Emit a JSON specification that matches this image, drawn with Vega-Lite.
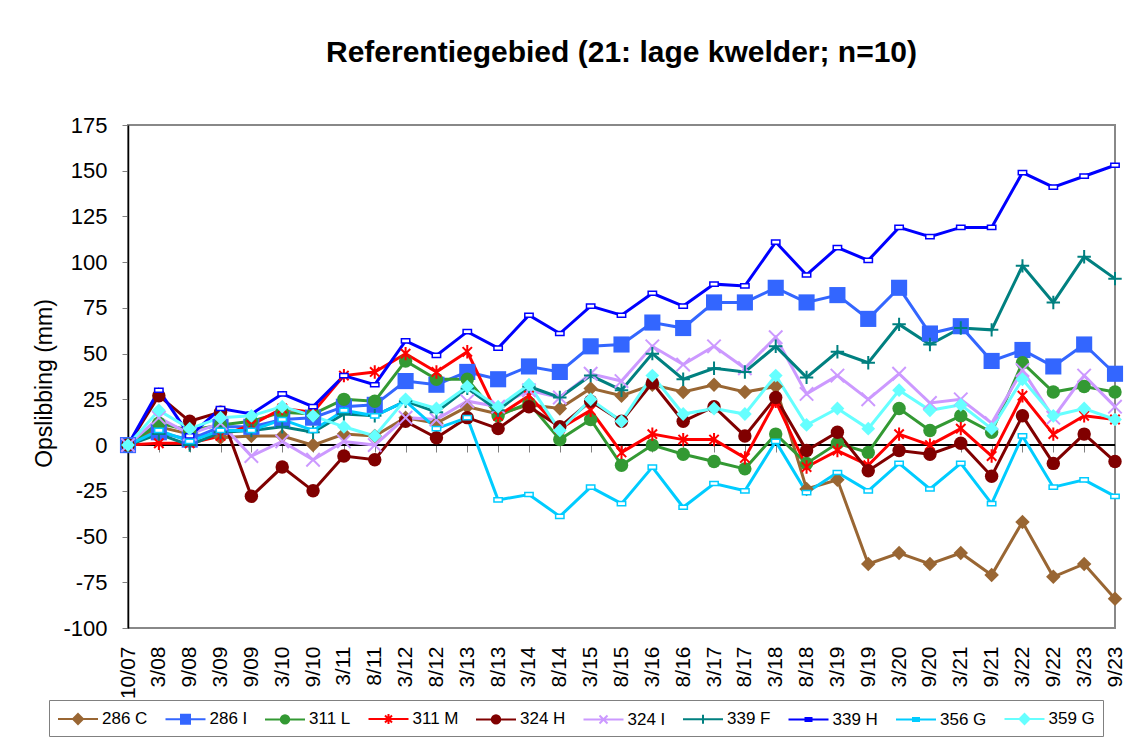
{
  "$schema": "https://vega.github.io/schema/vega-lite/v6.json",
  "width": 987,
  "height": 503,
  "autosize": {"type": "none"},
  "padding": {"left": 128, "top": 125, "right": 18, "bottom": 123},
  "background": "white",
  "title": {"text": "Referentiegebied (21: lage kwelder; n=10)", "fontSize": 30, "font": "Liberation Sans", "fontWeight": "bold", "color": "black", "anchor": "middle", "frame": "group", "baseline": "alphabetic", "offset": 22},
  "config": {
    "font": "Liberation Sans",
    "view": {"stroke": "#888888", "strokeWidth": 2},
    "axisY": {"domainColor": "black", "domainWidth": 1.5, "tickColor": "#808080", "tickSize": 6, "tickWidth": 1, "labelFontSize": 22, "labelColor": "black", "labelPadding": 15, "gridColor": "#808080", "gridDash": [1, 1], "gridWidth": 1, "titleFontSize": 23, "titleFontWeight": "normal", "titleColor": "black", "titlePadding": 6}
  },
  "data": {"values": [
    {"d":"10/07","s":"286 C","v":0},{"d":"3/08","s":"286 C","v":10},{"d":"9/08","s":"286 C","v":6},{"d":"3/09","s":"286 C","v":4},{"d":"9/09","s":"286 C","v":5},{"d":"3/10","s":"286 C","v":5},{"d":"9/10","s":"286 C","v":0},{"d":"3/11","s":"286 C","v":6},{"d":"8/11","s":"286 C","v":5},{"d":"3/12","s":"286 C","v":15},{"d":"8/12","s":"286 C","v":12},{"d":"3/13","s":"286 C","v":21},{"d":"8/13","s":"286 C","v":17},{"d":"3/14","s":"286 C","v":22},{"d":"8/14","s":"286 C","v":20},{"d":"3/15","s":"286 C","v":31},{"d":"8/15","s":"286 C","v":27},{"d":"3/16","s":"286 C","v":33},{"d":"8/16","s":"286 C","v":29},{"d":"3/17","s":"286 C","v":33},{"d":"8/17","s":"286 C","v":29},{"d":"3/18","s":"286 C","v":32},{"d":"8/18","s":"286 C","v":-24},{"d":"3/19","s":"286 C","v":-19},{"d":"9/19","s":"286 C","v":-65},{"d":"3/20","s":"286 C","v":-59},{"d":"9/20","s":"286 C","v":-65},{"d":"3/21","s":"286 C","v":-59},{"d":"9/21","s":"286 C","v":-71},{"d":"3/22","s":"286 C","v":-42},{"d":"9/22","s":"286 C","v":-72},{"d":"3/23","s":"286 C","v":-65},{"d":"9/23","s":"286 C","v":-84},
    {"d":"10/07","s":"286 I","v":0},{"d":"3/08","s":"286 I","v":7},{"d":"9/08","s":"286 I","v":3},{"d":"3/09","s":"286 I","v":10},{"d":"9/09","s":"286 I","v":10},{"d":"3/10","s":"286 I","v":14},{"d":"9/10","s":"286 I","v":15},{"d":"3/11","s":"286 I","v":21},{"d":"8/11","s":"286 I","v":22},{"d":"3/12","s":"286 I","v":35},{"d":"8/12","s":"286 I","v":33},{"d":"3/13","s":"286 I","v":40},{"d":"8/13","s":"286 I","v":36},{"d":"3/14","s":"286 I","v":43},{"d":"8/14","s":"286 I","v":40},{"d":"3/15","s":"286 I","v":54},{"d":"8/15","s":"286 I","v":55},{"d":"3/16","s":"286 I","v":67},{"d":"8/16","s":"286 I","v":64},{"d":"3/17","s":"286 I","v":78},{"d":"8/17","s":"286 I","v":78},{"d":"3/18","s":"286 I","v":86},{"d":"8/18","s":"286 I","v":78},{"d":"3/19","s":"286 I","v":82},{"d":"9/19","s":"286 I","v":69},{"d":"3/20","s":"286 I","v":86},{"d":"9/20","s":"286 I","v":61},{"d":"3/21","s":"286 I","v":65},{"d":"9/21","s":"286 I","v":46},{"d":"3/22","s":"286 I","v":52},{"d":"9/22","s":"286 I","v":43},{"d":"3/23","s":"286 I","v":55},{"d":"9/23","s":"286 I","v":39},
    {"d":"10/07","s":"311 L","v":0},{"d":"3/08","s":"311 L","v":12},{"d":"9/08","s":"311 L","v":8},{"d":"3/09","s":"311 L","v":11},{"d":"9/09","s":"311 L","v":13},{"d":"3/10","s":"311 L","v":18},{"d":"9/10","s":"311 L","v":17},{"d":"3/11","s":"311 L","v":25},{"d":"8/11","s":"311 L","v":24},{"d":"3/12","s":"311 L","v":46},{"d":"8/12","s":"311 L","v":36},{"d":"3/13","s":"311 L","v":36},{"d":"8/13","s":"311 L","v":16},{"d":"3/14","s":"311 L","v":23},{"d":"8/14","s":"311 L","v":3},{"d":"3/15","s":"311 L","v":14},{"d":"8/15","s":"311 L","v":-11},{"d":"3/16","s":"311 L","v":0},{"d":"8/16","s":"311 L","v":-5},{"d":"3/17","s":"311 L","v":-9},{"d":"8/17","s":"311 L","v":-13},{"d":"3/18","s":"311 L","v":6},{"d":"8/18","s":"311 L","v":-10},{"d":"3/19","s":"311 L","v":1},{"d":"9/19","s":"311 L","v":-4},{"d":"3/20","s":"311 L","v":20},{"d":"9/20","s":"311 L","v":8},{"d":"3/21","s":"311 L","v":16},{"d":"9/21","s":"311 L","v":7},{"d":"3/22","s":"311 L","v":45},{"d":"9/22","s":"311 L","v":29},{"d":"3/23","s":"311 L","v":32},{"d":"9/23","s":"311 L","v":29},
    {"d":"10/07","s":"311 M","v":0},{"d":"3/08","s":"311 M","v":1},{"d":"9/08","s":"311 M","v":1},{"d":"3/09","s":"311 M","v":5},{"d":"9/09","s":"311 M","v":11},{"d":"3/10","s":"311 M","v":20},{"d":"9/10","s":"311 M","v":18},{"d":"3/11","s":"311 M","v":38},{"d":"8/11","s":"311 M","v":40},{"d":"3/12","s":"311 M","v":50},{"d":"8/12","s":"311 M","v":40},{"d":"3/13","s":"311 M","v":51},{"d":"8/13","s":"311 M","v":16},{"d":"3/14","s":"311 M","v":27},{"d":"8/14","s":"311 M","v":9},{"d":"3/15","s":"311 M","v":19},{"d":"8/15","s":"311 M","v":-4},{"d":"3/16","s":"311 M","v":6},{"d":"8/16","s":"311 M","v":3},{"d":"3/17","s":"311 M","v":3},{"d":"8/17","s":"311 M","v":-7},{"d":"3/18","s":"311 M","v":24},{"d":"8/18","s":"311 M","v":-12},{"d":"3/19","s":"311 M","v":-3},{"d":"9/19","s":"311 M","v":-11},{"d":"3/20","s":"311 M","v":6},{"d":"9/20","s":"311 M","v":0},{"d":"3/21","s":"311 M","v":9},{"d":"9/21","s":"311 M","v":-6},{"d":"3/22","s":"311 M","v":27},{"d":"9/22","s":"311 M","v":6},{"d":"3/23","s":"311 M","v":16},{"d":"9/23","s":"311 M","v":14},
    {"d":"10/07","s":"324 H","v":0},{"d":"3/08","s":"324 H","v":27},{"d":"9/08","s":"324 H","v":13},{"d":"3/09","s":"324 H","v":18},{"d":"9/09","s":"324 H","v":-28},{"d":"3/10","s":"324 H","v":-12},{"d":"9/10","s":"324 H","v":-25},{"d":"3/11","s":"324 H","v":-6},{"d":"8/11","s":"324 H","v":-8},{"d":"3/12","s":"324 H","v":13},{"d":"8/12","s":"324 H","v":4},{"d":"3/13","s":"324 H","v":15},{"d":"8/13","s":"324 H","v":9},{"d":"3/14","s":"324 H","v":21},{"d":"8/14","s":"324 H","v":10},{"d":"3/15","s":"324 H","v":24},{"d":"8/15","s":"324 H","v":13},{"d":"3/16","s":"324 H","v":34},{"d":"8/16","s":"324 H","v":13},{"d":"3/17","s":"324 H","v":21},{"d":"8/17","s":"324 H","v":5},{"d":"3/18","s":"324 H","v":26},{"d":"8/18","s":"324 H","v":-3},{"d":"3/19","s":"324 H","v":7},{"d":"9/19","s":"324 H","v":-14},{"d":"3/20","s":"324 H","v":-3},{"d":"9/20","s":"324 H","v":-5},{"d":"3/21","s":"324 H","v":1},{"d":"9/21","s":"324 H","v":-17},{"d":"3/22","s":"324 H","v":16},{"d":"9/22","s":"324 H","v":-10},{"d":"3/23","s":"324 H","v":6},{"d":"9/23","s":"324 H","v":-9},
    {"d":"10/07","s":"324 I","v":0},{"d":"3/08","s":"324 I","v":15},{"d":"9/08","s":"324 I","v":6},{"d":"3/09","s":"324 I","v":12},{"d":"9/09","s":"324 I","v":-6},{"d":"3/10","s":"324 I","v":2},{"d":"9/10","s":"324 I","v":-8},{"d":"3/11","s":"324 I","v":2},{"d":"8/11","s":"324 I","v":0},{"d":"3/12","s":"324 I","v":15},{"d":"8/12","s":"324 I","v":14},{"d":"3/13","s":"324 I","v":24},{"d":"8/13","s":"324 I","v":21},{"d":"3/14","s":"324 I","v":30},{"d":"8/14","s":"324 I","v":26},{"d":"3/15","s":"324 I","v":39},{"d":"8/15","s":"324 I","v":35},{"d":"3/16","s":"324 I","v":54},{"d":"8/16","s":"324 I","v":44},{"d":"3/17","s":"324 I","v":54},{"d":"8/17","s":"324 I","v":42},{"d":"3/18","s":"324 I","v":59},{"d":"8/18","s":"324 I","v":28},{"d":"3/19","s":"324 I","v":38},{"d":"9/19","s":"324 I","v":25},{"d":"3/20","s":"324 I","v":39},{"d":"9/20","s":"324 I","v":23},{"d":"3/21","s":"324 I","v":25},{"d":"9/21","s":"324 I","v":12},{"d":"3/22","s":"324 I","v":41},{"d":"9/22","s":"324 I","v":15},{"d":"3/23","s":"324 I","v":38},{"d":"9/23","s":"324 I","v":21},
    {"d":"10/07","s":"339 F","v":0},{"d":"3/08","s":"339 F","v":6},{"d":"9/08","s":"339 F","v":0},{"d":"3/09","s":"339 F","v":7},{"d":"9/09","s":"339 F","v":8},{"d":"3/10","s":"339 F","v":10},{"d":"9/10","s":"339 F","v":7},{"d":"3/11","s":"339 F","v":17},{"d":"8/11","s":"339 F","v":16},{"d":"3/12","s":"339 F","v":24},{"d":"8/12","s":"339 F","v":18},{"d":"3/13","s":"339 F","v":31},{"d":"8/13","s":"339 F","v":19},{"d":"3/14","s":"339 F","v":32},{"d":"8/14","s":"339 F","v":26},{"d":"3/15","s":"339 F","v":38},{"d":"8/15","s":"339 F","v":30},{"d":"3/16","s":"339 F","v":50},{"d":"8/16","s":"339 F","v":36},{"d":"3/17","s":"339 F","v":42},{"d":"8/17","s":"339 F","v":40},{"d":"3/18","s":"339 F","v":54},{"d":"8/18","s":"339 F","v":37},{"d":"3/19","s":"339 F","v":51},{"d":"9/19","s":"339 F","v":45},{"d":"3/20","s":"339 F","v":66},{"d":"9/20","s":"339 F","v":55},{"d":"3/21","s":"339 F","v":64},{"d":"9/21","s":"339 F","v":63},{"d":"3/22","s":"339 F","v":98},{"d":"9/22","s":"339 F","v":78},{"d":"3/23","s":"339 F","v":103},{"d":"9/23","s":"339 F","v":91},
    {"d":"10/07","s":"339 H","v":0},{"d":"3/08","s":"339 H","v":30},{"d":"9/08","s":"339 H","v":5},{"d":"3/09","s":"339 H","v":20},{"d":"9/09","s":"339 H","v":17},{"d":"3/10","s":"339 H","v":28},{"d":"9/10","s":"339 H","v":21},{"d":"3/11","s":"339 H","v":38},{"d":"8/11","s":"339 H","v":33},{"d":"3/12","s":"339 H","v":57},{"d":"8/12","s":"339 H","v":49},{"d":"3/13","s":"339 H","v":62},{"d":"8/13","s":"339 H","v":53},{"d":"3/14","s":"339 H","v":71},{"d":"8/14","s":"339 H","v":61},{"d":"3/15","s":"339 H","v":76},{"d":"8/15","s":"339 H","v":71},{"d":"3/16","s":"339 H","v":83},{"d":"8/16","s":"339 H","v":76},{"d":"3/17","s":"339 H","v":88},{"d":"8/17","s":"339 H","v":87},{"d":"3/18","s":"339 H","v":111},{"d":"8/18","s":"339 H","v":93},{"d":"3/19","s":"339 H","v":108},{"d":"9/19","s":"339 H","v":101},{"d":"3/20","s":"339 H","v":119},{"d":"9/20","s":"339 H","v":114},{"d":"3/21","s":"339 H","v":119},{"d":"9/21","s":"339 H","v":119},{"d":"3/22","s":"339 H","v":149},{"d":"9/22","s":"339 H","v":141},{"d":"3/23","s":"339 H","v":147},{"d":"9/23","s":"339 H","v":153},
    {"d":"10/07","s":"356 G","v":0},{"d":"3/08","s":"356 G","v":8},{"d":"9/08","s":"356 G","v":2},{"d":"3/09","s":"356 G","v":8},{"d":"9/09","s":"356 G","v":8},{"d":"3/10","s":"356 G","v":14},{"d":"9/10","s":"356 G","v":8},{"d":"3/11","s":"356 G","v":19},{"d":"8/11","s":"356 G","v":16},{"d":"3/12","s":"356 G","v":24},{"d":"8/12","s":"356 G","v":9},{"d":"3/13","s":"356 G","v":15},{"d":"8/13","s":"356 G","v":-30},{"d":"3/14","s":"356 G","v":-27},{"d":"8/14","s":"356 G","v":-39},{"d":"3/15","s":"356 G","v":-23},{"d":"8/15","s":"356 G","v":-32},{"d":"3/16","s":"356 G","v":-12},{"d":"8/16","s":"356 G","v":-34},{"d":"3/17","s":"356 G","v":-21},{"d":"8/17","s":"356 G","v":-25},{"d":"3/18","s":"356 G","v":2},{"d":"8/18","s":"356 G","v":-26},{"d":"3/19","s":"356 G","v":-15},{"d":"9/19","s":"356 G","v":-25},{"d":"3/20","s":"356 G","v":-10},{"d":"9/20","s":"356 G","v":-24},{"d":"3/21","s":"356 G","v":-10},{"d":"9/21","s":"356 G","v":-32},{"d":"3/22","s":"356 G","v":5},{"d":"9/22","s":"356 G","v":-23},{"d":"3/23","s":"356 G","v":-19},{"d":"9/23","s":"356 G","v":-28},
    {"d":"10/07","s":"359 G","v":0},{"d":"3/08","s":"359 G","v":19},{"d":"9/08","s":"359 G","v":9},{"d":"3/09","s":"359 G","v":15},{"d":"9/09","s":"359 G","v":16},{"d":"3/10","s":"359 G","v":21},{"d":"9/10","s":"359 G","v":16},{"d":"3/11","s":"359 G","v":10},{"d":"8/11","s":"359 G","v":5},{"d":"3/12","s":"359 G","v":25},{"d":"8/12","s":"359 G","v":20},{"d":"3/13","s":"359 G","v":32},{"d":"8/13","s":"359 G","v":21},{"d":"3/14","s":"359 G","v":33},{"d":"8/14","s":"359 G","v":8},{"d":"3/15","s":"359 G","v":25},{"d":"8/15","s":"359 G","v":13},{"d":"3/16","s":"359 G","v":38},{"d":"8/16","s":"359 G","v":17},{"d":"3/17","s":"359 G","v":20},{"d":"8/17","s":"359 G","v":17},{"d":"3/18","s":"359 G","v":38},{"d":"8/18","s":"359 G","v":11},{"d":"3/19","s":"359 G","v":20},{"d":"9/19","s":"359 G","v":9},{"d":"3/20","s":"359 G","v":30},{"d":"9/20","s":"359 G","v":19},{"d":"3/21","s":"359 G","v":22},{"d":"9/21","s":"359 G","v":9},{"d":"3/22","s":"359 G","v":36},{"d":"9/22","s":"359 G","v":16},{"d":"3/23","s":"359 G","v":20},{"d":"9/23","s":"359 G","v":14}
  ]},
  "layer": [
    {
      "mark": {"type": "rule", "color": "black", "strokeWidth": 1.5},
      "encoding": {
        "y": {"datum": 0, "type": "quantitative", "scale": {"domain": [-100, 175], "nice": false, "zero": false}, "axis": {"values": [-100, -75, -50, -25, 0, 25, 50, 75, 100, 125, 150, 175], "title": "Opslibbing (mm)", "titleY": 258, "labelExpr": "replace(datum.label, '\u2212', '-')"}}
      }
    },
    {
      "mark": {"type": "line", "strokeWidth": 3},
      "encoding": {
        "x": {"field": "d", "type": "ordinal", "scale": {"type": "point", "padding": 0, "domain": ["10/07","3/08","9/08","3/09","9/09","3/10","9/10","3/11","8/11","3/12","8/12","3/13","8/13","3/14","8/14","3/15","8/15","3/16","8/16","3/17","8/17","3/18","8/18","3/19","9/19","3/20","9/20","3/21","9/21","3/22","9/22","3/23","9/23"]}, "axis": {"orient": "bottom", "offset": -183, "labels": false, "domain": false, "ticks": true, "tickSize": 7, "tickColor": "#808080", "grid": false, "title": null}},
        "y": {"field": "v", "type": "quantitative", "scale": {"domain": [-100, 175], "nice": false, "zero": false}, "axis": {"values": [-100, -75, -50, -25, 0, 25, 50, 75, 100, 125, 150, 175], "title": "Opslibbing (mm)", "titleY": 258, "labelExpr": "replace(datum.label, '\u2212', '-')"}},
        "color": {"field": "s", "type": "nominal", "scale": {"domain": ["359 G","356 G","339 H","339 F","324 I","324 H","311 M","311 L","286 I","286 C"], "range": ["#66FFFF","#00CCFF","#0000FF","#008080","#CC99FF","#800000","#FF0000","#339933","#3366FF","#996633"]}, "legend": null}
      }
    },
    {
      "transform": [{"filter": {"field": "s", "oneOf": ["286 C"]}}],
      "mark": {"type": "point", "shape": "diamond", "filled": true, "size": 210, "opacity": 1},
      "encoding": {
        "x": {"field": "d", "type": "ordinal", "scale": {"type": "point", "padding": 0, "domain": ["10/07","3/08","9/08","3/09","9/09","3/10","9/10","3/11","8/11","3/12","8/12","3/13","8/13","3/14","8/14","3/15","8/15","3/16","8/16","3/17","8/17","3/18","8/18","3/19","9/19","3/20","9/20","3/21","9/21","3/22","9/22","3/23","9/23"]}, "axis": {"orient": "bottom", "labelAngle": -90, "labelFontSize": 21, "labelColor": "black", "labelPadding": 18, "ticks": false, "domain": false, "grid": false, "title": null}},
        "y": {"field": "v", "type": "quantitative", "scale": {"domain": [-100, 175], "nice": false, "zero": false}, "axis": {"values": [-100, -75, -50, -25, 0, 25, 50, 75, 100, 125, 150, 175], "title": "Opslibbing (mm)", "titleY": 258, "labelExpr": "replace(datum.label, '\u2212', '-')"}},
        "color": {"field": "s", "type": "nominal", "legend": null}
      }
    },
    {
      "transform": [{"filter": {"field": "s", "oneOf": ["286 I"]}}],
      "mark": {"type": "point", "shape": "square", "filled": true, "size": 260, "opacity": 1},
      "encoding": {
        "x": {"field": "d", "type": "ordinal", "axis": null},
        "y": {"field": "v", "type": "quantitative", "axis": {"values": [-100, -75, -50, -25, 0, 25, 50, 75, 100, 125, 150, 175], "title": "Opslibbing (mm)", "titleY": 258, "labelExpr": "replace(datum.label, '\u2212', '-')"}},
        "color": {"field": "s", "type": "nominal", "legend": null}
      }
    },
    {
      "transform": [{"filter": {"field": "s", "oneOf": ["311 L"]}}],
      "mark": {"type": "point", "shape": "circle", "filled": true, "size": 180, "opacity": 1},
      "encoding": {
        "x": {"field": "d", "type": "ordinal", "axis": null},
        "y": {"field": "v", "type": "quantitative", "axis": {"values": [-100, -75, -50, -25, 0, 25, 50, 75, 100, 125, 150, 175], "title": "Opslibbing (mm)", "titleY": 258, "labelExpr": "replace(datum.label, '\u2212', '-')"}},
        "color": {"field": "s", "type": "nominal", "legend": null}
      }
    },
    {
      "transform": [{"filter": {"field": "s", "oneOf": ["311 M"]}}],
      "mark": {"type": "point", "shape": "M-0.7,-0.7L0.7,0.7M-0.7,0.7L0.7,-0.7M0,-1L0,1", "filled": false, "size": 180, "strokeWidth": 2, "opacity": 1},
      "encoding": {
        "x": {"field": "d", "type": "ordinal", "axis": null},
        "y": {"field": "v", "type": "quantitative", "axis": {"values": [-100, -75, -50, -25, 0, 25, 50, 75, 100, 125, 150, 175], "title": "Opslibbing (mm)", "titleY": 258, "labelExpr": "replace(datum.label, '\u2212', '-')"}},
        "color": {"field": "s", "type": "nominal", "legend": null}
      }
    },
    {
      "transform": [{"filter": {"field": "s", "oneOf": ["324 H"]}}],
      "mark": {"type": "point", "shape": "circle", "filled": true, "size": 180, "opacity": 1},
      "encoding": {
        "x": {"field": "d", "type": "ordinal", "axis": null},
        "y": {"field": "v", "type": "quantitative", "axis": {"values": [-100, -75, -50, -25, 0, 25, 50, 75, 100, 125, 150, 175], "title": "Opslibbing (mm)", "titleY": 258, "labelExpr": "replace(datum.label, '\u2212', '-')"}},
        "color": {"field": "s", "type": "nominal", "legend": null}
      }
    },
    {
      "transform": [{"filter": {"field": "s", "oneOf": ["324 I"]}}],
      "mark": {"type": "point", "shape": "M-1,-1L1,1M-1,1L1,-1", "filled": false, "size": 180, "strokeWidth": 2, "opacity": 1},
      "encoding": {
        "x": {"field": "d", "type": "ordinal", "axis": null},
        "y": {"field": "v", "type": "quantitative", "axis": {"values": [-100, -75, -50, -25, 0, 25, 50, 75, 100, 125, 150, 175], "title": "Opslibbing (mm)", "titleY": 258, "labelExpr": "replace(datum.label, '\u2212', '-')"}},
        "color": {"field": "s", "type": "nominal", "legend": null}
      }
    },
    {
      "transform": [{"filter": {"field": "s", "oneOf": ["339 F"]}}],
      "mark": {"type": "point", "shape": "M-1,0L1,0M0,-1L0,1", "filled": false, "size": 180, "strokeWidth": 2, "opacity": 1},
      "encoding": {
        "x": {"field": "d", "type": "ordinal", "axis": null},
        "y": {"field": "v", "type": "quantitative", "axis": {"values": [-100, -75, -50, -25, 0, 25, 50, 75, 100, 125, 150, 175], "title": "Opslibbing (mm)", "titleY": 258, "labelExpr": "replace(datum.label, '\u2212', '-')"}},
        "color": {"field": "s", "type": "nominal", "legend": null}
      }
    },
    {
      "transform": [{"filter": {"field": "s", "oneOf": ["339 H", "356 G"]}}],
      "mark": {"type": "point", "shape": "M-1,-0.5L1,-0.5L1,0.5L-1,0.5Z", "filled": false, "fill": "white", "size": 70, "strokeWidth": 1.5, "opacity": 1},
      "encoding": {
        "x": {"field": "d", "type": "ordinal", "axis": null},
        "y": {"field": "v", "type": "quantitative", "axis": {"values": [-100, -75, -50, -25, 0, 25, 50, 75, 100, 125, 150, 175], "title": "Opslibbing (mm)", "titleY": 258, "labelExpr": "replace(datum.label, '\u2212', '-')"}},
        "color": {"field": "s", "type": "nominal", "legend": null}
      }
    },
    {
      "transform": [{"filter": {"field": "s", "oneOf": ["359 G"]}}],
      "mark": {"type": "point", "shape": "diamond", "filled": true, "size": 190, "opacity": 1},
      "encoding": {
        "x": {"field": "d", "type": "ordinal", "axis": null},
        "y": {"field": "v", "type": "quantitative", "axis": {"values": [-100, -75, -50, -25, 0, 25, 50, 75, 100, 125, 150, 175], "title": "Opslibbing (mm)", "titleY": 258, "labelExpr": "replace(datum.label, '\u2212', '-')"}},
        "color": {"field": "s", "type": "nominal", "legend": null}
      }
    },
    {
      "transform": [{"filter": {"field": "d", "oneOf": ["10/07"]}}],
      "mark": {"type": "point", "filled": true, "opacity": 1, "size": 0, "strokeWidth": 2},
      "encoding": {
        "x": {"field": "d", "type": "ordinal", "axis": null},
        "y": {"field": "v", "type": "quantitative", "axis": {"values": [-100, -75, -50, -25, 0, 25, 50, 75, 100, 125, 150, 175], "title": "Opslibbing (mm)", "titleY": 258, "labelExpr": "replace(datum.label, '\u2212', '-')"}},
        "shape": {"field": "s", "type": "nominal",
          "scale": {"domain": ["286 C","286 I","311 L","311 M","324 H","324 I","339 F","339 H","356 G","359 G"],
            "range": [
              "M-1,0L3,0M1,-0.5L1.5,0L1,0.5L0.5,0Z",
              "M-1,0L3,0M0.55,-0.45L1.45,-0.45L1.45,0.45L0.55,0.45Z",
              "M-1,0L3,0M1.42,0A0.42,0.42,0,1,1,0.58,0A0.42,0.42,0,1,1,1.42,0Z",
              "M-1,0L3,0M0.65,-0.35L1.35,0.35M0.65,0.35L1.35,-0.35M1,-0.5L1,0.5",
              "M-1,0L3,0M1.42,0A0.42,0.42,0,1,1,0.58,0A0.42,0.42,0,1,1,1.42,0Z",
              "M-1,0L3,0M0.6,-0.4L1.4,0.4M0.6,0.4L1.4,-0.4",
              "M-1,0L3,0M1,-0.45L1,0.45",
              "M-1,0L3,0M0.7,-0.15L1.3,-0.15L1.3,0.15L0.7,0.15Z",
              "M-1,0L3,0M0.7,-0.15L1.3,-0.15L1.3,0.15L0.7,0.15Z",
              "M-1,0L3,0M1,-0.5L1.5,0L1,0.5L0.5,0Z"
            ]},
          "legend": {"orient": "none", "legendX": -79, "legendY": 575, "direction": "horizontal", "columns": 10, "title": null, "symbolSize": 400, "symbolStrokeWidth": 2, "labelFontSize": 17, "labelFont": "Liberation Sans", "labelColor": "black", "labelOffset": 23, "columnPadding": 13.5, "padding": 8, "strokeColor": "#808080", "fillColor": "white", "labelLimit": 0, "symbolOpacity": 1}},
        "fill": {"field": "s", "type": "nominal",
          "scale": {"domain": ["286 C","286 I","311 L","311 M","324 H","324 I","339 F","339 H","356 G","359 G"], "range": ["#996633","#3366FF","#339933","#FF0000","#800000","#CC99FF","#008080","#0000FF","#00CCFF","#66FFFF"]},
          "legend": {"orient": "none", "legendX": -79, "legendY": 575, "direction": "horizontal", "columns": 10, "title": null, "symbolSize": 400, "symbolStrokeWidth": 2, "labelFontSize": 17, "labelFont": "Liberation Sans", "labelColor": "black", "labelOffset": 23, "columnPadding": 13.5, "padding": 8, "strokeColor": "#808080", "fillColor": "white", "labelLimit": 0, "symbolOpacity": 1}},
        "stroke": {"field": "s", "type": "nominal",
          "scale": {"domain": ["286 C","286 I","311 L","311 M","324 H","324 I","339 F","339 H","356 G","359 G"], "range": ["#996633","#3366FF","#339933","#FF0000","#800000","#CC99FF","#008080","#0000FF","#00CCFF","#66FFFF"]},
          "legend": {"orient": "none", "legendX": -79, "legendY": 575, "direction": "horizontal", "columns": 10, "title": null, "symbolSize": 400, "symbolStrokeWidth": 2, "labelFontSize": 17, "labelFont": "Liberation Sans", "labelColor": "black", "labelOffset": 23, "columnPadding": 13.5, "padding": 8, "strokeColor": "#808080", "fillColor": "white", "labelLimit": 0, "symbolOpacity": 1}}
      }
    }
  ],
  "resolve": {"axis": {"x": "independent"}}
}
